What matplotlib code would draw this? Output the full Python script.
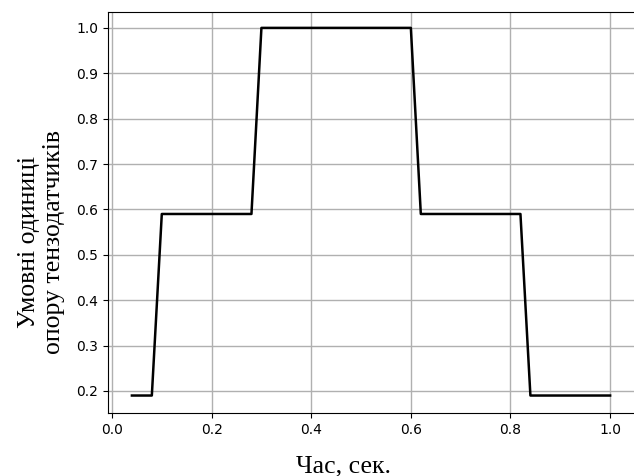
import matplotlib
matplotlib.use('Agg')
import matplotlib.pyplot as plt

# дані сигналу
t = [0.04, 0.08, 0.10, 0.28, 0.30, 0.60, 0.62, 0.82, 0.84, 1.00]
u = [0.19, 0.19, 0.59, 0.59, 1.00, 1.00, 0.59, 0.59, 0.19, 0.19]
xticks = [0.0, 0.2, 0.4, 0.6, 0.8, 1.0]
yticks = [0.2, 0.3, 0.4, 0.5, 0.6, 0.7, 0.8, 0.9, 1.0]

fig = plt.figure(figsize=(6.34, 4.76), dpi=100)
ax = fig.add_axes([108 / 634, 63 / 476, 530 / 634, 401 / 476])

ax.plot(t, u, color='black', linewidth=1.8)
ax.set_xlim(-0.008, 1.056)
ax.set_ylim(0.1515, 1.035)
ax.set_xticks(xticks)
ax.set_yticks(yticks)
ax.tick_params(labelsize=10)
ax.grid(True, color='#b0b0b0', linewidth=1.0)

serif = ['Liberation Serif', 'DejaVu Serif']
ax.set_xlabel("Час, сек.", family=serif, fontsize=18.5)
ax.set_ylabel("Умовні одиниці\nопору тензодатчиків", family=serif, fontsize=18.5)
ax.xaxis.set_label_coords(0.445, -0.105)
ax.yaxis.set_label_coords(-0.081, 0.426)

fig.savefig("out.png", dpi=100)
